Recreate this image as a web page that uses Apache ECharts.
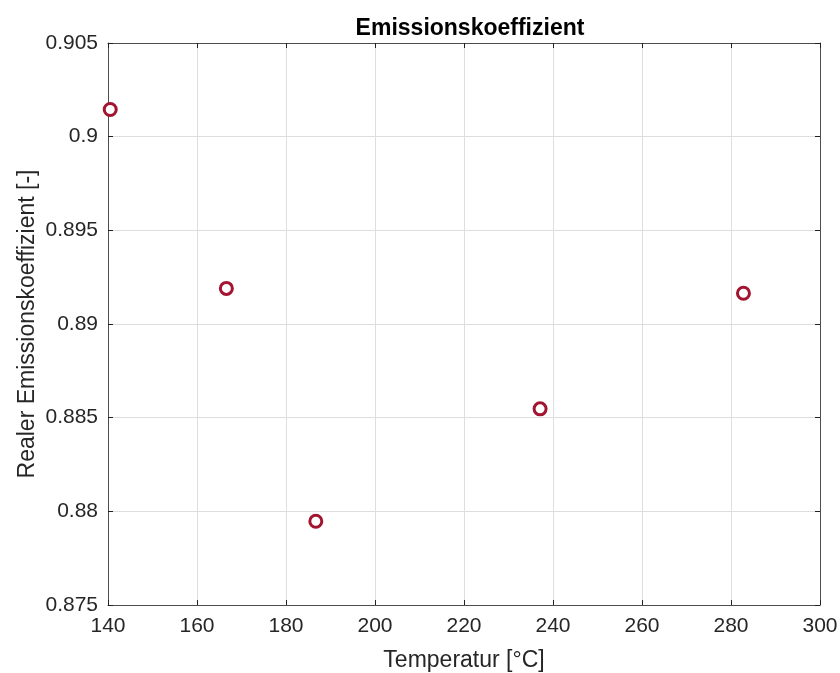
<!DOCTYPE html>
<html>
<head>
<meta charset="utf-8">
<script src="https://cdn.jsdelivr.net/npm/echarts@6/dist/echarts.min.js"></script>
<style>
  html, body { margin: 0; padding: 0; background: #fff; }
  #chart { width: 840px; height: 673px; }
</style>
</head>
<body>
<div id="chart"></div>
<script>
// Temperatur [°C] und realer Emissionskoeffizient
const temperatures = [140.5, 166.6, 186.7, 237.1, 282.8]
const emissivity = [0.90145, 0.8919, 0.87947, 0.88547, 0.89164]

const axisColor = '#4d4d4d'
const textColor = '#262626'
const font = 'Liberation Sans, Arial, sans-serif'

function fmt (v) {
    return parseFloat(v.toFixed(3)).toString()
}

const points = temperatures.map((t, i) => [t, emissivity[i]])

const boxAxis = {
    axisLine: { show: true, lineStyle: { color: axisColor, width: 1 } },
    axisTick: { show: true, inside: true, length: 5, lineStyle: { color: '#222' } },
    axisLabel: { show: false },
    splitLine: { show: false }
}

const chart = echarts.init(document.getElementById('chart'), null, { renderer: 'canvas' })
chart.setOption({
    animation: false,
    backgroundColor: '#fff',
    title: {
        text: 'Emissionskoeffizient',
        left: 465,
        textAlign: 'center',
        top: 12,
        textStyle: { fontFamily: font, fontSize: 23, fontWeight: 'bold', color: '#000' }
    },
    grid: { left: 108, right: 20, top: 43, bottom: 68, outerBoundsMode: 'none', containLabel: false },
    xAxis: [{
        type: 'value',
        min: 140,
        max: 300,
        interval: 20,
        name: 'Temperatur [°C]',
        nameLocation: 'middle',
        nameGap: 44,
        nameMoveOverlap: false,
        nameTextStyle: { fontFamily: font, fontSize: 23, color: textColor },
        axisLine: { show: true, lineStyle: { color: axisColor, width: 1 } },
        axisTick: { show: true, inside: true, length: 5, lineStyle: { color: '#222' } },
        axisLabel: { fontFamily: font, fontSize: 21, color: textColor, margin: 11 },
        splitLine: { show: true, lineStyle: { color: '#dedede', width: 1 } }
    }, Object.assign({
        type: 'value', position: 'top', min: 140, max: 300, interval: 20
    }, boxAxis)],
    yAxis: [{
        type: 'value',
        min: 0.875,
        max: 0.905,
        interval: 0.005,
        name: 'Realer Emissionskoeffizient [-]',
        nameLocation: 'middle',
        nameGap: 69,
        nameMoveOverlap: false,
        nameTextStyle: { fontFamily: font, fontSize: 23, color: textColor },
        axisLine: { show: true, lineStyle: { color: axisColor, width: 1 } },
        axisTick: { show: true, inside: true, length: 5, lineStyle: { color: '#222' } },
        axisLabel: { fontFamily: font, fontSize: 21, color: textColor, margin: 10, formatter: fmt },
        splitLine: { show: true, lineStyle: { color: '#dedede', width: 1 } }
    }, Object.assign({
        type: 'value', position: 'right', min: 0.875, max: 0.905, interval: 0.005
    }, boxAxis)],
    series: [{
        type: 'scatter',
        data: points,
        symbol: 'circle',
        symbolSize: 12,
        itemStyle: { color: '#fff', borderColor: '#A2142F', borderWidth: 3, opacity: 1 }
    }]
})
</script>
</body>
</html>
